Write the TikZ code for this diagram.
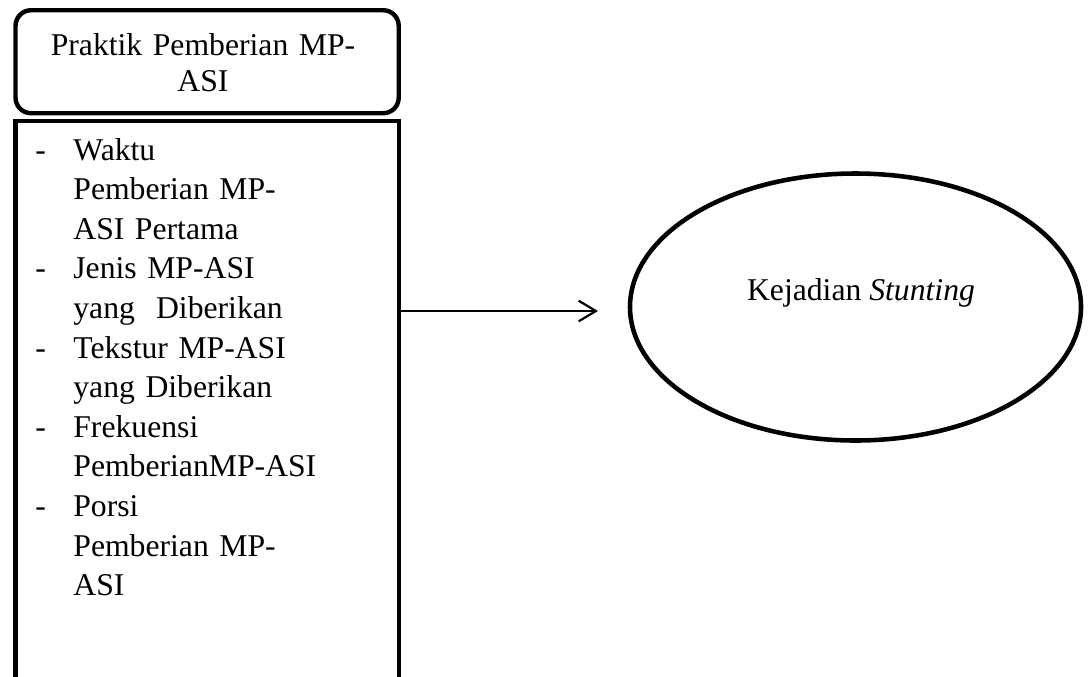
\documentclass[tikz,border=0pt]{standalone}
\usepackage{fontspec}
\setmainfont{Liberation Serif}
\usetikzlibrary{arrows.meta,shapes.geometric}
\begin{document}
\begin{tikzpicture}[x=0.41667pt,y=-0.41667pt,
  thickline/.style={draw=black,line width=1.85pt},
  headbox/.style={thickline,rounded corners=6.5pt,minimum width=383.2*0.41667pt,minimum height=103*0.41667pt,inner sep=0pt,anchor=north west},
  listbox/.style={thickline,minimum width=383.2*0.41667pt,minimum height=558*0.41667pt,inner sep=0pt,anchor=north west},
  oval/.style={draw=black,line width=1.9pt,ellipse,minimum width=451*0.41667pt,minimum height=267*0.41667pt,inner sep=0pt},
  txt/.style={inner sep=0pt,font=\fontsize{13.2}{15.4}\selectfont},
  conn/.style={line width=0.9pt,-{Straight Barb[length=7.2pt,width=8.6pt,line width=0.9pt]}}
]
\useasboundingbox (0,0) rectangle (1091,676);
\node[headbox] (head) at (13.3,8) {};
\node[txt,text width=200pt,align=center,anchor=base] (headtxt) at (203,55) {Praktik Pemberian MP-\\ASI};
\node[listbox] (body) at (13.3,119) {};
\node[txt,text width=200pt,align=left,anchor=base west,font=\fontsize{13.2}{16.5}\selectfont] (list) at (35,160)
{\makebox[15.8pt][l]{-}Waktu\\
\hspace*{15.8pt}Pemberian MP-\\
\hspace*{15.8pt}ASI Pertama\\
\makebox[15.8pt][l]{-}Jenis MP-ASI\\
\hspace*{15.8pt}yang\ \ Diberikan\\
\makebox[15.8pt][l]{-}Tekstur MP-ASI\\
\hspace*{15.8pt}yang Diberikan\\
\makebox[15.8pt][l]{-}Frekuensi\\
\hspace*{15.8pt}PemberianMP-ASI\\
\makebox[15.8pt][l]{-}Porsi\\
\hspace*{15.8pt}Pemberian MP-\\
\hspace*{15.8pt}ASI};
\node[oval] (ell) at (855.5,307) {};
\node[txt,anchor=base] (elltxt) at (861,300) {Kejadian \textit{Stunting}};
\coordinate (arrend) at (598,311);
\draw[conn] (body.east |- arrend) -- (arrend);
\end{tikzpicture}
\end{document}
